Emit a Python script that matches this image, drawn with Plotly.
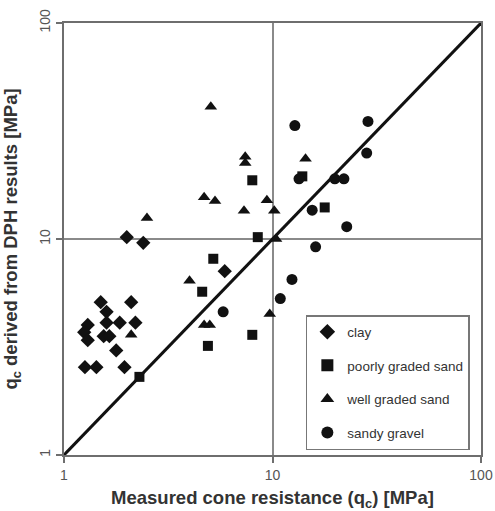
import plotly.graph_objects as go

# Data (MPa)
clay_x = [2.0, 2.4, 1.5, 2.1, 1.6, 1.6, 1.85, 2.2, 1.3, 1.25, 1.3, 1.55, 1.65, 1.78, 1.26, 1.43, 1.95, 5.9]
clay_y = [10.2, 9.6, 5.1, 5.1, 4.6, 4.1, 4.1, 4.1, 4.0, 3.7, 3.4, 3.55, 3.55, 3.05, 2.55, 2.55, 2.55, 7.1]

pgs_x = [2.3, 4.9, 8.0, 8.0, 8.5, 5.2, 4.6, 13.9, 17.8]
pgs_y = [2.3, 3.2, 3.6, 18.7, 10.2, 8.1, 5.7, 19.5, 14.0]

wgs_x = [5.06, 7.4, 7.4, 14.4, 4.7, 5.3, 7.3, 9.4, 10.2, 10.4, 4.0, 9.7, 4.7, 5.0, 2.1, 2.5]
wgs_y = [41.0, 24.0, 22.5, 23.5, 15.6, 15.0, 13.5, 15.1, 13.5, 10.0, 6.4, 4.5, 4.0, 4.0, 3.6, 12.5]

sg_x = [12.8, 28.7, 28.3, 13.4, 19.9, 22.0, 15.5, 22.7, 16.1, 12.4, 10.9, 5.8]
sg_y = [33.5, 35.0, 25.0, 19.0, 19.0, 19.0, 13.6, 11.4, 9.2, 6.5, 5.3, 4.6]

line_x = [1, 100]
line_y = [1, 100]

FONT = "Liberation Sans, Arial, sans-serif"

fig = go.Figure()
fig.add_trace(go.Scatter(x=line_x, y=line_y, mode="lines", showlegend=False,
                         line=dict(color="#111111", width=3), hoverinfo="skip"))

series = [
    ("clay", clay_x, clay_y, "diamond", 11),
    ("poorly graded sand", pgs_x, pgs_y, "square", 10),
    ("well graded sand", wgs_x, wgs_y, "triangle-up", 11),
    ("sandy gravel", sg_x, sg_y, "circle", 11),
]
for name, xs, ys, sym, sz in series:
    fig.add_trace(go.Scatter(x=xs, y=ys, mode="markers", name=name, legendgroup=name,
                             marker=dict(symbol=sym, size=sz, color="#111111",
                                         line=dict(width=0))))

axis_common = dict(
    type="log", range=[0, 2], dtick=1, automargin=False,
    showgrid=True, gridcolor="#8a8a8a", gridwidth=2,
    showline=True, linecolor="#6e6e6e", linewidth=2, mirror=True,
    ticks="outside", ticklen=6, tickcolor="#6e6e6e", tickwidth=1.5,
    tickfont=dict(family=FONT, size=14, color="#555555"),
    zeroline=False,
)

fig.update_layout(
    width=495, height=511,
    margin=dict(l=64, r=14, t=23, b=56),
    paper_bgcolor="white", plot_bgcolor="white",
    xaxis=dict(**axis_common,
               title=dict(text="<b>Measured cone resistance (q<sub>c</sub>) [MPa]</b>",
                          font=dict(family=FONT, size=18.5, color="#333333"))),
    yaxis=dict(**axis_common, tickangle=-90,
               title=dict(text="<b>q<sub>c</sub> derived from DPH results [MPa]</b>",
                          font=dict(family=FONT, size=18.5, color="#333333"))),
    legend=dict(x=0.58, y=0.324, xanchor="left", yanchor="top",
                bgcolor="white", bordercolor="#777777", borderwidth=1.5,
                font=dict(family=FONT, size=13.5, color="#333333"),
                traceorder="grouped", tracegroupgap=13, itemwidth=30,
                itemsizing="constant"),
    showlegend=True,
)

fig.write_html("out.html")
